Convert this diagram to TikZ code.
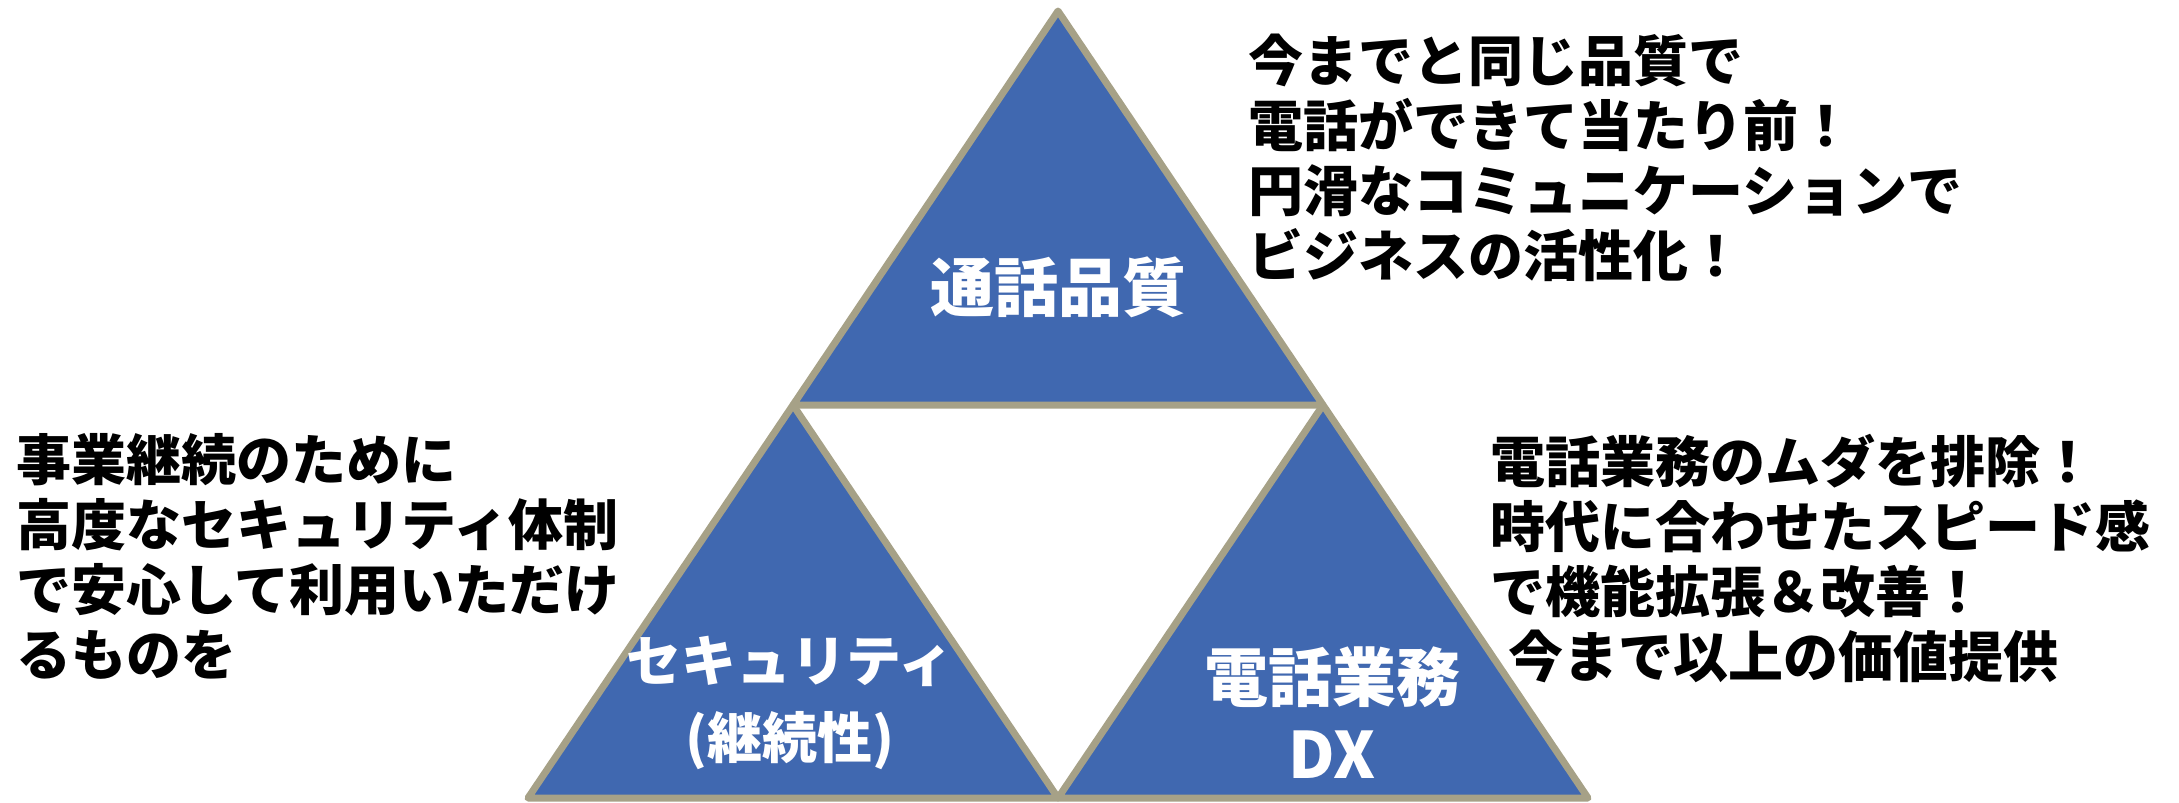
\documentclass[tikz,border=0pt]{standalone}
\usepackage{fontspec}
\setmainfont{Noto Sans CJK JP}[BoldFont={Noto Sans CJK JP Black}]
\definecolor{triblue}{RGB}{64,104,176}
\definecolor{tritan}{RGB}{166,161,135}
\begin{document}
\begin{tikzpicture}[x=0.5pt,y=-0.5pt,
  tri/.style={fill=triblue,draw=tritan,line width=3.5pt,line join=round},
  body/.style={font=\fontsize{27.5pt}{32.5pt}\selectfont\bfseries,align=left,inner sep=0pt,anchor=north west,text=black},
  lab/.style={font=\fontsize{32pt}{38.5pt}\selectfont\bfseries,align=center,inner sep=0pt,text=white},
  labs/.style={font=\fontsize{27.5pt}{38.5pt}\selectfont\bfseries,align=center,inner sep=0pt,text=white}]
\useasboundingbox (0,0) rectangle (2179,803);
\coordinate (A) at (1058,11);
\coordinate (L) at (793,405);
\coordinate (R) at (1323,405);
\coordinate (BL) at (528,798);
\coordinate (BM) at (1058,798);
\coordinate (BR) at (1588,798);
\draw[tri] (A) -- (L) -- (R) -- cycle;
\draw[tri] (L) -- (BL) -- (BM) -- cycle;
\draw[tri] (R) -- (BM) -- (BR) -- cycle;
\node[lab] (quality) at (1058,287) {通話品質};
\node[labs] (security) at (790,703) {セキュリティ\\(継続性)};
\node[lab] (dx) at (1332,713) {電話業務\\DX};
\node[body] (tqual) at (1248,34) {今までと同じ品質で\\電話ができて当たり前！\\円滑なコミュニケーションで\\ビジネスの活性化！};
\node[body] (tsec) at (16,433) {事業継続のために\\高度なセキュリティ体制\\で安心して利用いただけ\\るものを};
\node[body] (tdx) at (1490,434) {電話業務のムダを排除！\\時代に合わせたスピード感\\で機能拡張＆改善！\\\hspace{9pt}今まで以上の価値提供};
\end{tikzpicture}
\end{document}
